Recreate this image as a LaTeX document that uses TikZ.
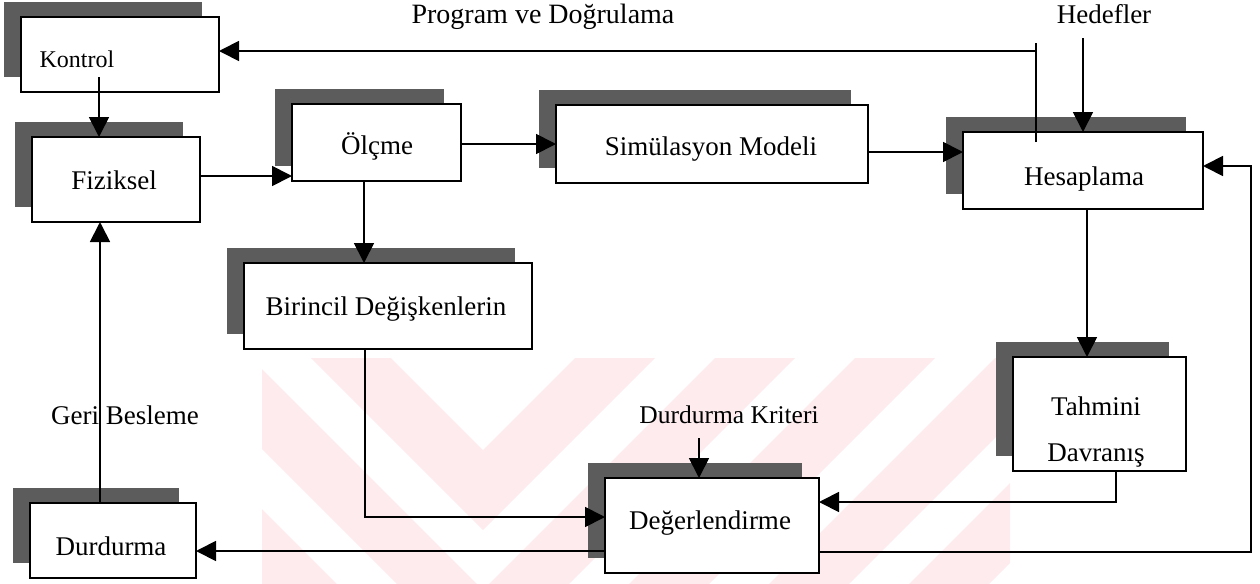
\documentclass[tikz,border=0pt]{standalone}
\usepackage{fontspec}
\setmainfont{Liberation Serif}
\usetikzlibrary{arrows.meta,calc,fit}
\definecolor{wm}{RGB}{253,235,238}
\definecolor{shd}{gray}{0.36}
\tikzset{
  box/.style={draw=black, line width=1pt, fill=white, rectangle, inner sep=0pt, outer sep=0pt},
  txt/.style={inner sep=0pt, yshift=-1.2pt, text height=0.68em, text depth=0pt, font=\fontsize{13.5}{16}\selectfont},
  conn/.style={line width=0.9pt},
  arr/.style={conn, -{Triangle[length=10pt,width=10pt]}},
}
\newcommand\mybox[5]{%
  \fill[shd] (#2-17,#3-15) rectangle (#4-17,#5-15);
  \node[box, fit={(#2,#3) (#4,#5)}] (#1) {};}
\begin{document}
\begin{tikzpicture}[x=0.5pt,y=-0.5pt]
\useasboundingbox (0,0) rectangle (1260,584);
% watermark
\begin{scope}
  \clip (262,358) rectangle (1010,584);
  \foreach \a in {450,590,730,870,1010}{
    \fill[wm] (483-700,\a-700) -- (483,\a) -- (483+700,\a-700) -- (483+700,\a+80-700) -- (483,\a+80) -- (483-700,\a+80-700) -- cycle;
  }
\end{scope}
% boxes
\mybox{kontrol}{21}{17}{219}{92}
\mybox{fiz}{32}{137}{200}{222}
\mybox{olcme}{292}{104}{461}{181}
\mybox{sim}{556}{105}{868}{183}
\mybox{hes}{963}{132}{1203}{209}
\mybox{bir}{244}{263}{532}{349}
\mybox{tah}{1013}{357}{1186}{471}
\mybox{deg}{605}{478}{819}{573}
\mybox{dur}{30}{503}{196}{578}
% texts
\node[txt, font=\fontsize{12}{14}\selectfont] (tkontrol) at (77,58) {Kontrol};
\node[txt] (tfiz) at (114,180) {Fiziksel};
\node[txt] (tolcme) at (377,145) {Ölçme};
\node[txt] (tsim) at (711,146) {Simülasyon Modeli};
\node[txt] (thes) at (1084,176) {Hesaplama};
\node[txt] (tbir) at (386,306) {Birincil Değişkenlerin};
\node[txt] (ttah1) at (1096,406) {Tahmini};
\node[txt] (ttah2) at (1096,452) {Davranış};
\node[txt] (tdeg) at (710,520) {Değerlendirme};
\node[txt] (tdur) at (111,546) {Durdurma};
\node[txt, font=\fontsize{14}{16}\selectfont] (tprog) at (543,14) {Program ve Doğrulama};
\node[txt] (thed) at (1104,14) {Hedefler};
\node[txt, font=\fontsize{12.75}{15}\selectfont] (tkrit) at (729,414) {Durdurma Kriteri};
\node[txt] (tgeri) at (125,415) {Geri Besleme};
% free ends
\coordinate (k1) at (99,77);
\coordinate (h1) at (1083,38);
\coordinate (p1) at (1036,142);
\coordinate (p2) at (1036,43);
\coordinate (p3) at (1036,51);
\coordinate (c1) at (699,438);
\coordinate (r1) at (1251,166);
% connectors
\draw[arr] (k1) -- (k1 |- fiz.north);
\draw[arr] (fiz.east |- 0,176) -- (olcme.west |- 0,176);
\draw[arr] (olcme.east |- 0,144) -- (sim.west |- 0,144);
\draw[arr] (sim.east |- 0,152) -- (hes.west |- 0,152);
\draw[arr] (olcme.south -| 364,0) -- (bir.north -| 364,0);
\draw[arr] (h1) -- (h1 |- hes.north);
\draw[conn] (p1) -- (p2);
\draw[arr] (p3) -- (kontrol.east |- p3);
\draw[arr] (hes.south -| 1087,0) -- (tah.north -| 1087,0);
\draw[arr] (tah.south -| 1116,0) |- (deg.east |- 0,502);
\draw[arr] (bir.south -| 365,0) |- (deg.west |- 0,517);
\draw[arr] (c1) -- (c1 |- deg.north);
\draw[arr] (deg.west |- 0,551) -- (dur.east |- 0,551);
\draw[arr] (deg.east |- 0,552) -| (r1) -- (hes.east |- r1);
\draw[arr] (dur.north -| 100,0) -- (fiz.south -| 100,0);
\end{tikzpicture}
\end{document}
